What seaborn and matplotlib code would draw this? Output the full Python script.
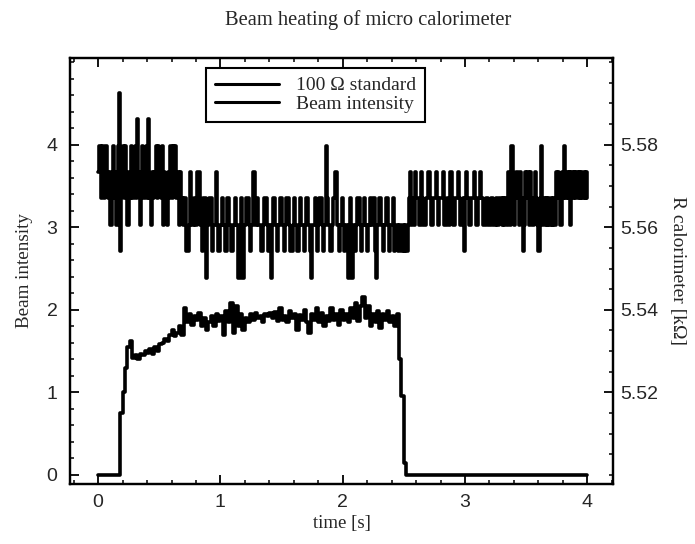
import numpy as np
import matplotlib
matplotlib.use("Agg")
import matplotlib.pyplot as plt
from matplotlib.ticker import MultipleLocator, FixedLocator, FormatStrFormatter
import seaborn as sns

# ---- data ----
r_time_s = np.round(np.arange(0, 4.0001, 0.01), 2)
beam_time_s = np.round(np.arange(0, 4.0001, 0.02), 2)

# 100 Ohm standard / calorimeter resistance, kOhm (quantised readings, 0.01 s)
r_kohm = [
    5.5734, 5.5798, 5.5670, 5.5798, 5.5734, 5.5670, 5.5798, 5.5734, 5.5670, 5.5734,
    5.5606, 5.5734, 5.5798, 5.5670, 5.5734, 5.5606, 5.5798, 5.5926, 5.5542, 5.5734,
    5.5798, 5.5670, 5.5798, 5.5734, 5.5606, 5.5734, 5.5670, 5.5798, 5.5670, 5.5734,
    5.5798, 5.5670, 5.5862, 5.5734, 5.5606, 5.5734, 5.5798, 5.5670, 5.5734, 5.5798,
    5.5670, 5.5862, 5.5670, 5.5606, 5.5734, 5.5670, 5.5734, 5.5798, 5.5670, 5.5798,
    5.5734, 5.5670, 5.5798, 5.5606, 5.5734, 5.5670, 5.5606, 5.5734, 5.5670, 5.5798,
    5.5670, 5.5798, 5.5734, 5.5798, 5.5670, 5.5734, 5.5606, 5.5734, 5.5670, 5.5606,
    5.5670, 5.5670, 5.5542, 5.5542, 5.5606, 5.5734, 5.5606, 5.5606, 5.5670, 5.5606,
    5.5606, 5.5734, 5.5734, 5.5606, 5.5606, 5.5542, 5.5670, 5.5670, 5.5478, 5.5606,
    5.5606, 5.5670, 5.5670, 5.5542, 5.5606, 5.5606, 5.5734, 5.5606, 5.5542, 5.5542,
    5.5606, 5.5670, 5.5606, 5.5606, 5.5542, 5.5670, 5.5670, 5.5606, 5.5606, 5.5542,
    5.5606, 5.5606, 5.5670, 5.5606, 5.5478, 5.5478, 5.5606, 5.5670, 5.5478, 5.5606,
    5.5606, 5.5670, 5.5670, 5.5606, 5.5542, 5.5606, 5.5606, 5.5734, 5.5606, 5.5606,
    5.5670, 5.5606, 5.5606, 5.5542, 5.5542, 5.5606, 5.5670, 5.5670, 5.5606, 5.5542,
    5.5606, 5.5478, 5.5606, 5.5670, 5.5670, 5.5606, 5.5542, 5.5606, 5.5606, 5.5670,
    5.5606, 5.5606, 5.5542, 5.5606, 5.5670, 5.5670, 5.5606, 5.5542, 5.5542, 5.5606,
    5.5670, 5.5606, 5.5606, 5.5542, 5.5606, 5.5670, 5.5606, 5.5606, 5.5542, 5.5606,
    5.5670, 5.5670, 5.5606, 5.5542, 5.5478, 5.5606, 5.5606, 5.5670, 5.5606, 5.5542,
    5.5606, 5.5670, 5.5670, 5.5606, 5.5542, 5.5606, 5.5798, 5.5670, 5.5606, 5.5606,
    5.5542, 5.5606, 5.5670, 5.5670, 5.5734, 5.5606, 5.5606, 5.5542, 5.5606, 5.5670,
    5.5606, 5.5542, 5.5606, 5.5606, 5.5478, 5.5606, 5.5670, 5.5478, 5.5606, 5.5606,
    5.5542, 5.5606, 5.5670, 5.5670, 5.5606, 5.5542, 5.5606, 5.5670, 5.5606, 5.5606,
    5.5542, 5.5606, 5.5670, 5.5606, 5.5606, 5.5670, 5.5542, 5.5478, 5.5606, 5.5606,
    5.5670, 5.5606, 5.5606, 5.5542, 5.5606, 5.5670, 5.5670, 5.5606, 5.5542, 5.5606,
    5.5606, 5.5670, 5.5542, 5.5606, 5.5606, 5.5542, 5.5606, 5.5606, 5.5542, 5.5606,
    5.5542, 5.5606, 5.5542, 5.5606, 5.5670, 5.5734, 5.5606, 5.5670, 5.5606, 5.5734,
    5.5670, 5.5670, 5.5606, 5.5606, 5.5734, 5.5670, 5.5606, 5.5606, 5.5670, 5.5670,
    5.5734, 5.5670, 5.5606, 5.5606, 5.5670, 5.5670, 5.5734, 5.5670, 5.5606, 5.5670,
    5.5670, 5.5670, 5.5734, 5.5606, 5.5606, 5.5670, 5.5670, 5.5606, 5.5734, 5.5670,
    5.5606, 5.5606, 5.5670, 5.5670, 5.5734, 5.5670, 5.5606, 5.5606, 5.5670, 5.5542,
    5.5670, 5.5734, 5.5670, 5.5606, 5.5606, 5.5670, 5.5670, 5.5734, 5.5670, 5.5606,
    5.5606, 5.5670, 5.5734, 5.5670, 5.5670, 5.5606, 5.5606, 5.5670, 5.5670, 5.5606,
    5.5606, 5.5670, 5.5670, 5.5606, 5.5606, 5.5670, 5.5606, 5.5606, 5.5670, 5.5670,
    5.5606, 5.5670, 5.5606, 5.5670, 5.5606, 5.5734, 5.5670, 5.5606, 5.5798, 5.5670,
    5.5606, 5.5670, 5.5734, 5.5670, 5.5606, 5.5734, 5.5670, 5.5542, 5.5606, 5.5734,
    5.5670, 5.5734, 5.5606, 5.5734, 5.5670, 5.5606, 5.5670, 5.5734, 5.5670, 5.5606,
    5.5542, 5.5670, 5.5798, 5.5606, 5.5670, 5.5606, 5.5670, 5.5606, 5.5670, 5.5606,
    5.5670, 5.5606, 5.5670, 5.5606, 5.5734, 5.5670, 5.5734, 5.5670, 5.5606, 5.5734,
    5.5670, 5.5798, 5.5670, 5.5734, 5.5670, 5.5734, 5.5606, 5.5734, 5.5670, 5.5734,
    5.5670, 5.5734, 5.5670, 5.5734, 5.5670, 5.5734, 5.5670, 5.5734, 5.5670, 5.5734,
    5.5670,
]

# beam intensity (left axis, 0.02 s)
beam = [
    0.0, 0.0, 0.0, 0.0, 0.0, 0.0, 0.0, 0.0, 0.0, 0.75,
    1.00, 1.30, 1.55, 1.62, 1.42, 1.45, 1.40, 1.47, 1.45, 1.50,
    1.48, 1.52, 1.47, 1.55, 1.50, 1.58, 1.60, 1.65, 1.62, 1.70,
    1.75, 1.68, 1.72, 1.80, 1.70, 2.02, 1.85, 1.95, 1.82, 1.92,
    1.88, 1.96, 1.80, 1.90, 1.75, 1.85, 1.92, 1.80, 1.95, 1.86,
    1.92, 1.70, 1.98, 1.85, 2.08, 1.72, 2.05, 1.80, 1.95, 1.76,
    1.90, 1.85, 1.95, 1.88, 1.96, 1.90, 1.93, 1.85, 1.95, 1.92,
    1.96, 1.90, 1.97, 1.86, 2.02, 1.88, 1.93, 1.85, 1.98, 1.90,
    1.95, 1.75, 1.94, 1.88, 2.00, 1.85, 1.72, 1.95, 1.88, 2.02,
    1.85, 1.96, 1.80, 1.92, 1.86, 2.02, 1.88, 1.95, 1.82, 2.00,
    1.88, 1.95, 1.85, 2.02, 1.90, 2.08, 1.86, 2.05, 2.15, 1.90,
    2.05, 1.80, 1.95, 1.85, 1.98, 1.78, 1.95, 1.88, 1.98, 1.85,
    1.92, 1.80, 1.95, 1.40, 0.95, 0.15, 0.0, 0.0, 0.0, 0.0,
    0.0, 0.0, 0.0, 0.0, 0.0, 0.0, 0.0, 0.0, 0.0, 0.0,
    0.0, 0.0, 0.0, 0.0, 0.0, 0.0, 0.0, 0.0, 0.0, 0.0,
    0.0, 0.0, 0.0, 0.0, 0.0, 0.0, 0.0, 0.0, 0.0, 0.0,
    0.0, 0.0, 0.0, 0.0, 0.0, 0.0, 0.0, 0.0, 0.0, 0.0,
    0.0, 0.0, 0.0, 0.0, 0.0, 0.0, 0.0, 0.0, 0.0, 0.0,
    0.0, 0.0, 0.0, 0.0, 0.0, 0.0, 0.0, 0.0, 0.0, 0.0,
    0.0, 0.0, 0.0, 0.0, 0.0, 0.0, 0.0, 0.0, 0.0, 0.0,
    0.0,
]

left_ticks = [0, 1, 2, 3, 4]
right_ticks = [5.52, 5.54, 5.56, 5.58]
x_ticks = [0, 1, 2, 3, 4]

series_labels = ["100 \u03a9 standard", "Beam intensity"]
title_text = "Beam heating of micro calorimeter"
x_label = "time [s]"
y_left_label = "Beam intensity"
y_right_label = "R calorimeter [k\u03a9]"

# ---- style ----
sns.set_style("ticks")
plt.rcParams["font.family"] = ["Liberation Serif", "DejaVu Serif"]
plt.rcParams["axes.linewidth"] = 1.6

serif = ["Liberation Serif", "DejaVu Serif"]
sans = ["Liberation Sans", "DejaVu Sans"]

fig = plt.figure(figsize=(6.95, 5.44), dpi=100)
ax = fig.add_axes([70 / 695, 1 - 484 / 544, 543 / 695, 426 / 544])
ax2 = ax.twinx()

sns.lineplot(x=beam_time_s, y=beam, ax=ax, color="black", linewidth=2.6,
             drawstyle="steps-post", estimator=None, legend=False)
sns.lineplot(x=r_time_s, y=r_kohm, ax=ax2, color="black", linewidth=2.6,
             drawstyle="steps-post", estimator=None, legend=False)

ax.set_xlim(-0.23, 4.21)
ax.set_ylim(-0.11, 5.05)
ax2.set_ylim(5.4978, 5.6010)

ax.xaxis.set_major_locator(FixedLocator(x_ticks))
ax.xaxis.set_minor_locator(MultipleLocator(0.2))
ax.yaxis.set_major_locator(FixedLocator(left_ticks))
ax.yaxis.set_minor_locator(MultipleLocator(0.2))
ax2.yaxis.set_major_locator(FixedLocator(right_ticks))
ax2.yaxis.set_minor_locator(MultipleLocator(0.005))
ax2.yaxis.set_major_formatter(FormatStrFormatter("%.2f"))

ax.tick_params(axis="x", which="both", direction="in", top=True, bottom=True, pad=7)
ax.tick_params(axis="y", which="both", direction="in", left=True, right=False, pad=9)
ax2.tick_params(axis="y", which="both", direction="in", right=True, left=False, pad=5)
for a in (ax, ax2):
    a.tick_params(which="major", length=6.5, width=1.3, labelsize=14, color="black")
    a.tick_params(which="minor", length=3, width=1.1, color="black")
    for lab in a.get_xticklabels() + a.get_yticklabels():
        lab.set_family(sans)
    for s in a.spines.values():
        s.set_visible(True)
        s.set_color("black")
        s.set_linewidth(1.6)

ax.set_xlabel(x_label, fontsize=13.5, family=serif, labelpad=3)
ax.set_ylabel(y_left_label, fontsize=13.8, family=serif, labelpad=10)
ax2.set_ylabel(y_right_label, fontsize=14, family=serif, rotation=270, labelpad=20)

fig.text(368 / 695, 1 - 20 / 544, title_text, ha="center", va="center",
         fontsize=14.8, family=serif)

handles = [ax2.get_lines()[0], ax.get_lines()[0]]
leg = ax2.legend(handles, series_labels, loc="upper left",
                 bbox_to_anchor=(206 / 695, 1 - 68 / 544),
                 bbox_transform=fig.transFigure,
                 frameon=True, fancybox=False, shadow=False,
                 prop={"family": serif, "size": 14},
                 handlelength=3.3, handletextpad=0.9, borderpad=0.45,
                 labelspacing=0.05, borderaxespad=0)
for h in leg.get_lines():
    h.set_linewidth(2.2)
leg.get_frame().set_edgecolor("black")
leg.get_frame().set_linewidth(1.5)
leg.get_frame().set_alpha(1)

fig.savefig("out.png", dpi=100)
